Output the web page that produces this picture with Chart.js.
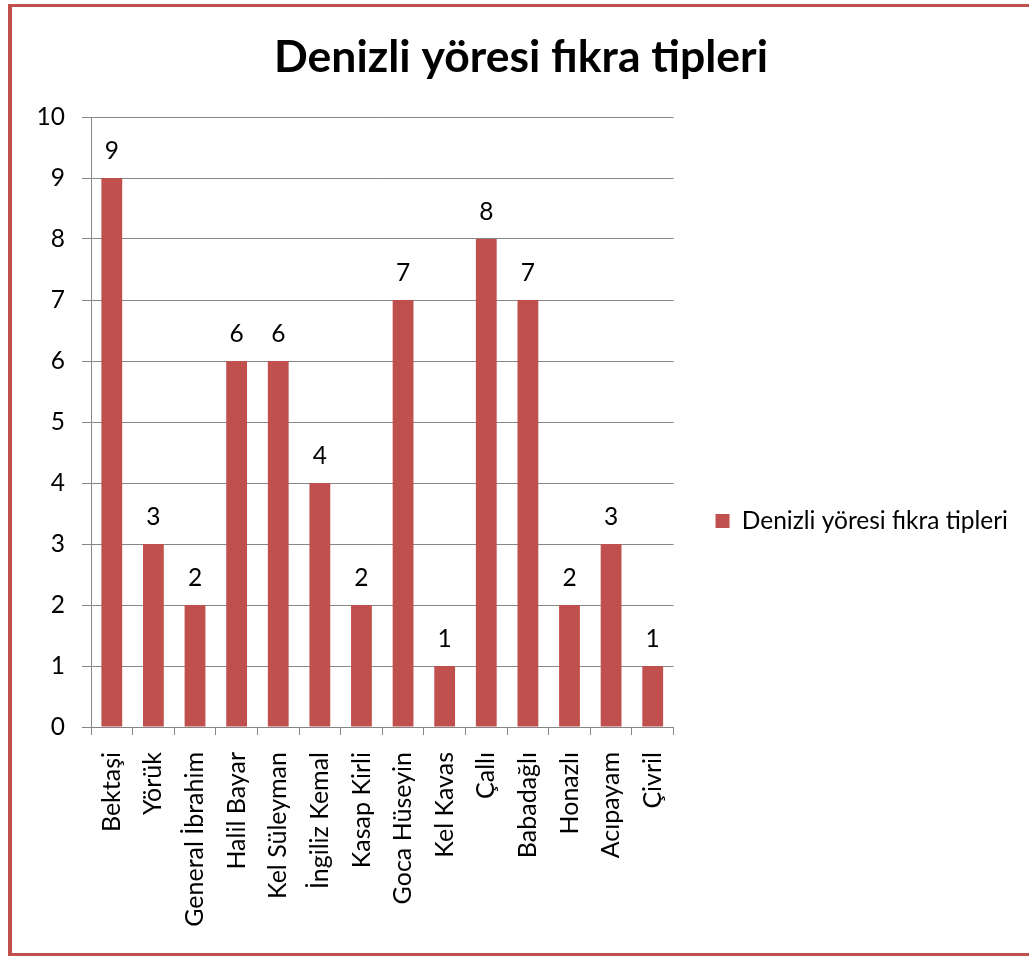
<!DOCTYPE html>
<html>
<head>
<meta charset="utf-8">
<title>Denizli yöresi fıkra tipleri</title>
<script src="https://cdn.jsdelivr.net/npm/chart.js@4.4.1/dist/chart.umd.min.js"></script>
<style>
  html, body { margin: 0; padding: 0; background: #fff; overflow: hidden; }
  #wrap { position: relative; width: 1029px; height: 956px; }
  #frame {
    position: absolute; left: 8px; top: 4px; width: 1100px; height: 952px;
    box-sizing: border-box; border: 3px solid #c0504d; border-left-width: 4px;
    pointer-events: none;
  }
  canvas { position: absolute; left: 0; top: 0; }
</style>
</head>
<body>
<div id="wrap">
  <canvas id="chart" width="1029" height="956"></canvas>
  <div id="frame"></div>
</div>
<script>
// chart data
const chartTitle = "Denizli yöresi fıkra tipleri";
const seriesName = "Denizli yöresi fıkra tipleri";
const categories = ["Bektaşi", "Yörük", "General İbrahim", "Halil Bayar", "Kel Süleyman", "İngiliz Kemal",
    "Kasap Kirli", "Goca Hüseyin", "Kel Kavas", "Çallı", "Babadağlı", "Honazlı", "Acıpayam", "Çivril"];
const values = [9, 3, 2, 6, 6, 4, 2, 7, 1, 8, 7, 2, 3, 1];
const yTicks = [0, 1, 2, 3, 4, 5, 6, 7, 8, 9, 10];

const fontFamily = "Lato, 'Open Sans', sans-serif";
const barColor = "#c0504d";
const gridColor = "#868686";

var canvas = document.getElementById("chart");
var ctx = canvas.getContext("2d");

// pick font sizes so the texts come out about as wide as in the original picture
function fitSize(text, weight, target) {
    ctx.font = weight + " 100px " + fontFamily;
    return Math.round(2 * 100 * target / ctx.measureText(text).width) / 2;
}
var titleSize = fitSize(chartTitle, "bold", 492);
var textSize = fitSize(seriesName, "normal", 265);
var xLabelSize = fitSize("General İbrahim", "normal", 174);

ctx.font = textSize + "px " + fontFamily;
var legendTextW = ctx.measureText(seriesName).width;
var legendW = 42 + 14 + textSize / 2 + legendTextW + 10;
var padRight = Math.max(0, Math.round(1029 - 674 - legendW));
var padLeft = Math.min(30, padRight + 13);

var titleLH = Math.round(titleSize * 1.2);
var titlePadTop = Math.round(57 - titleLH / 2);
var titlePadBottom = 117 - titlePadTop - titleLH;

// value labels above bars
const valueLabels = {
    id: "valueLabels",
    afterDatasetsDraw(chart) {
        var c = chart.ctx;
        var meta = chart.getDatasetMeta(0);
        c.save();
        c.font = textSize + "px " + fontFamily;
        c.fillStyle = "#000";
        c.textAlign = "center";
        c.textBaseline = "alphabetic";
        meta.data.forEach(function(bar, i) {
            c.fillText(String(values[i]), bar.x, bar.y - 19);
        });
        c.restore();
    }
};

var myChart = new Chart(ctx, {
    type: "bar",
    data: {
        labels: categories,
        datasets: [{
            label: seriesName,
            data: values,
            backgroundColor: barColor,
            borderWidth: 0,
            categoryPercentage: 1.0,
            barPercentage: 0.5
        }]
    },
    options: {
        responsive: false,
        animation: false,
        layout: { padding: { left: padLeft, right: padRight, top: 0, bottom: 0 } },
        plugins: {
            title: {
                display: true,
                text: chartTitle,
                color: "#000",
                font: { family: fontFamily, size: titleSize, weight: "bold", lineHeight: titleLH / titleSize },
                padding: { top: titlePadTop, bottom: titlePadBottom }
            },
            legend: {
                position: "right",
                align: "center",
                maxWidth: 500,
                // empty title pushes the item down to the middle of the area under the chart title
                title: { display: true, text: "", font: { size: 12, lineHeight: 1.2 }, padding: { top: 71.6, bottom: 0 } },
                labels: {
                    boxWidth: 14,
                    boxHeight: 14,
                    padding: 42,
                    color: "#000",
                    font: { family: fontFamily, size: textSize }
                }
            },
            tooltip: { enabled: false }
        },
        scales: {
            x: {
                grid: { display: true, drawOnChartArea: false, drawTicks: true, tickLength: 8, color: gridColor, offset: true },
                border: { display: true, color: gridColor, width: 1 },
                ticks: {
                    autoSkip: false,
                    minRotation: 90,
                    maxRotation: 90,
                    padding: 17,
                    color: "#000",
                    font: { family: fontFamily, size: xLabelSize }
                },
                afterFit: function(scale) { scale.height = 229; }
            },
            y: {
                min: yTicks[0],
                max: yTicks[yTicks.length - 1],
                grid: { color: gridColor, tickLength: 9, drawTicks: true },
                border: { display: true, color: gridColor, width: 1 },
                ticks: {
                    stepSize: 1,
                    padding: 17,
                    color: "#000",
                    font: { family: fontFamily, size: textSize }
                },
                afterFit: function(scale) { scale.width = 91 - padLeft; }
            }
        }
    },
    plugins: [valueLabels]
});
</script>
</body>
</html>
